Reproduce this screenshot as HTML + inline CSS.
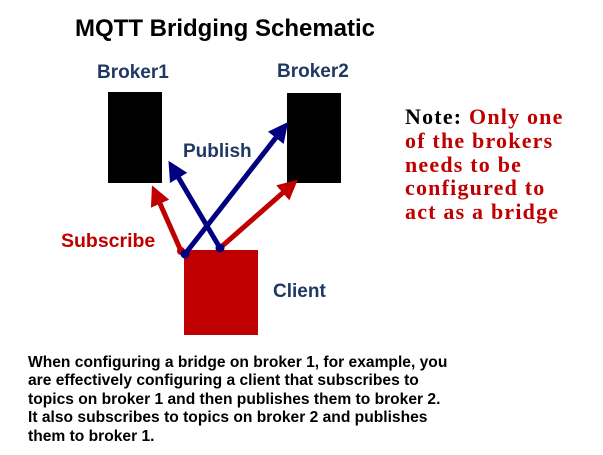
<!DOCTYPE html>
<html><head><style>
body{margin:0;width:603px;height:455px;background:#fff;position:relative;overflow:hidden;font-family:"Liberation Sans",sans-serif;font-weight:bold}
.t{position:absolute;white-space:nowrap}
</style></head><body>
<div class="t" style="left:75px;top:15px;font-size:24px;color:#000">MQTT Bridging Schematic</div>
<svg width="603" height="455" style="position:absolute;left:0;top:0">
<defs>
<marker id="r" markerWidth="4" markerHeight="4" refX="3" refY="2" orient="auto" markerUnits="strokeWidth"><path d="M0,0 L4,2 L0,4 z" fill="#c00000"/></marker>
<marker id="b" markerWidth="4" markerHeight="4" refX="3" refY="2" orient="auto" markerUnits="strokeWidth"><path d="M0,0 L4,2 L0,4 z" fill="#000080"/></marker>
</defs>
<rect x="108" y="92" width="54" height="91" fill="#000"/>
<rect x="287" y="93" width="54" height="90" fill="#000"/>
<rect x="184" y="250" width="74" height="85" fill="#c00000"/>
<line x1="181" y1="251" x2="154" y2="190" stroke="#c00000" stroke-width="5" marker-end="url(#r)"/>
<line x1="220" y1="248" x2="294" y2="183" stroke="#c00000" stroke-width="5" marker-end="url(#r)"/>
<line x1="220" y1="248" x2="171" y2="165" stroke="#000080" stroke-width="5" marker-end="url(#b)"/>
<line x1="185" y1="254" x2="285" y2="126" stroke="#000080" stroke-width="5" marker-end="url(#b)"/>
<circle cx="181" cy="251" r="4" fill="#c00000"/>
<circle cx="185" cy="254" r="4.5" fill="#000080"/>
<circle cx="220" cy="248" r="4.5" fill="#000080"/>
</svg>
<div class="t" style="left:97px;top:62px;font-size:19px;color:#1f3864">Broker1</div>
<div class="t" style="left:277px;top:61px;font-size:19px;color:#1f3864">Broker2</div>
<div class="t" style="left:183px;top:141px;font-size:19px;color:#1f3864">Publish</div>
<div class="t" style="left:61px;top:230px;font-size:19.5px;color:#c00000">Subscribe</div>
<div class="t" style="left:273px;top:281px;font-size:19px;color:#1f3864">Client</div>
<div class="t" style="left:405px;top:105px;font-size:22px;letter-spacing:1.2px;line-height:23.8px;color:#c00000;font-family:'Liberation Serif',serif"><span style="color:#000">Note:</span> Only one<br>of the brokers<br>needs to be<br>configured to<br>act as a bridge</div>
<div class="t" style="left:28px;top:354px;font-size:15.6px;line-height:18.4px;color:#000">When configuring a bridge on broker 1, for example, you<br>are effectively configuring a client that subscribes to<br>topics on broker 1 and then publishes them to broker 2.<br>It also subscribes to topics on broker 2 and publishes<br>them to broker 1.</div>
</body></html>
